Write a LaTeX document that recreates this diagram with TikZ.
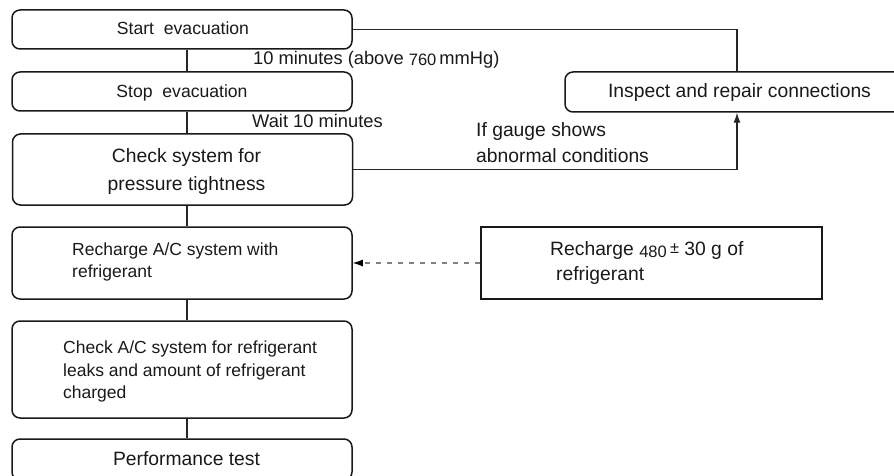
\documentclass[tikz,border=0pt]{standalone}
\usepackage{fontspec}
\setmainfont{Liberation Sans}
\usetikzlibrary{arrows.meta,calc}
\newcommand\fsA{\fontsize{17.6pt}{20pt}\selectfont}
\newcommand\fsB{\fontsize{17.5pt}{20pt}\selectfont}
\newcommand\fsC{\fontsize{19.3pt}{22pt}\selectfont}
\newcommand\fsL{\fontsize{18.3pt}{21pt}\selectfont}
\newcommand\fsS{\fontsize{16.5pt}{18pt}\selectfont}
\begin{document}
\begin{tikzpicture}[x=1pt,y=-1pt,
 flowbox/.style={draw=black!90, line width=1.5pt, rounded corners=8pt, minimum width=340pt, inner sep=0pt},
 plainbox/.style={draw=black!90, line width=2.2pt, minimum width=341pt, minimum height=72pt, inner sep=0pt},
 txt/.style={anchor=base west, inner sep=0pt, text=black!90},
 ctxt/.style={anchor=base, inner sep=0pt, text=black!90},
 conn/.style={draw=black!85, line width=1.1pt},
 tip/.style={-{Latex[length=10pt,width=7pt]}}
]
\useasboundingbox (0,0) rectangle (894,476);
% boxes
\node[flowbox, minimum height=39pt] (start) at (182,29.5) {};
\node[flowbox, minimum height=39pt] (stop) at (182,91.5) {};
\node[flowbox, minimum height=71pt] (check) at (182.5,169.5) {};
\node[flowbox, minimum height=72pt] (recharge) at (182,263) {};
\node[flowbox, minimum height=97pt] (checkac) at (182,369.5) {};
\node[flowbox, minimum height=41pt] (perf) at (182,459.5) {};
\node[flowbox, minimum width=349pt, minimum height=40pt] (inspect) at (739.5,92) {};
\node[plainbox] (refr) at (651.5,263) {};
% texts
\node[ctxt] (tstart) at (183,35) {\fsA Start\ \ evacuation};
\node[ctxt] (tstop) at (182,97.5) {\fsA Stop\ \ evacuation};
\node[ctxt] (tinspect) at (739.5,98) {\fsC Inspect and repair connections};
\node[ctxt] (tcheck1) at (186.5,163) {\fsC Check system for};
\node[ctxt] (tcheck2) at (186.5,190) {\fsC pressure tightness};
\node[txt] (trech1) at (72,255) {\fsB Recharge A/C system with};
\node[txt] (trech2) at (72,277) {\fsB refrigerant};
\node[txt] (tac1) at (63,353) {\fsB Check A/C system for refrigerant};
\node[txt] (tac2) at (63,376) {\fsB leaks and amount of refrigerant};
\node[txt] (tac3) at (63,398) {\fsB charged};
\node[ctxt] (tperf) at (186.5,465) {\fsC Performance test};
\node[txt] (tr1) at (550,255) {\fsC Recharge \raisebox{-2pt}{\fsS 480}\,\raisebox{2pt}{\fsS ±}\ 30 g of};
\node[txt] (tr2) at (556,280) {\fsC refrigerant};
% labels
\node[txt] (l1) at (253,65) {\fsL 10 minutes (above \raisebox{-1pt}{\fsS 760}\,mmHg)};
\node[txt] (l2) at (252,128) {\fsL Wait 10 minutes};
\node[txt] (l3) at (476,137) {\fsC If gauge shows};
\node[txt] (l4) at (476,162) {\fsC abnormal conditions};
% connectors
\coordinate (spine) at (187,0);
\coordinate (rx) at (737,0);
\draw[conn] (start.south -| spine) -- (stop.north -| spine);
\draw[conn] (stop.south -| spine) -- (check.north -| spine);
\draw[conn] (check.south -| spine) -- (recharge.north -| spine);
\draw[conn] (recharge.south -| spine) -- (checkac.north -| spine);
\draw[conn] (checkac.south -| spine) -- (perf.north -| spine);
\draw[conn] (start.east) -- (start.east -| rx) -- (inspect.north -| rx);
\draw[conn, tip] (check.east) -- (check.east -| rx) -- (inspect.south -| rx);
\draw[conn, draw=gray, dash pattern=on 5pt off 6pt, -{Latex[length=10pt,width=7pt,color=black]}] (refr.west) -- (recharge.east);
\end{tikzpicture}
\end{document}
